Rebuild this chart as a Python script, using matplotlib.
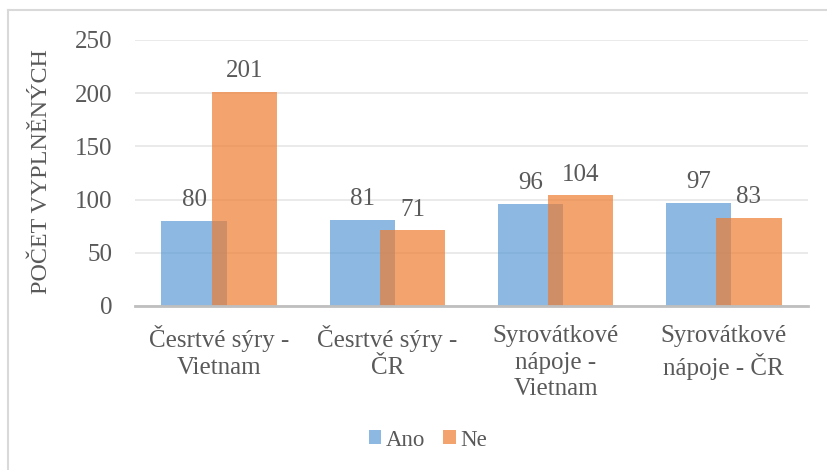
import numpy as np
import matplotlib.pyplot as plt
from matplotlib.lines import Line2D

# Data
kategorie = ['Česrtvé sýry -\nVietnam', 'Česrtvé sýry -\nČR',
             'Syrovátkové\nnápoje -\nVietnam', 'Syrovátkové\nnápoje - ČR']
ano = [80, 81, 96, 97]
ne = [201, 71, 104, 83]

plt.rcParams['font.family'] = 'serif'
plt.rcParams['font.serif'] = ['Liberation Serif', 'DejaVu Serif']
text_col = '#595959'

fig = plt.figure(figsize=(8.28, 4.70), dpi=100)
ax = fig.add_axes([135/828, 1 - 306/470, (808 - 135)/828, (306 - 40)/470])

x = np.arange(len(kategorie))
w = 0.387
off = 0.149
b1 = ax.bar(x - off, ano, w, color='#5B9BD5', alpha=0.7, label='Ano', zorder=2)
b2 = ax.bar(x + off, ne, w, color='#ED7D31', alpha=0.7, label='Ne', zorder=3)

for bars in (b1, b2):
    for r in bars:
        ax.annotate(str(int(r.get_height())),
                    (r.get_x() + r.get_width()/2, r.get_height()),
                    xytext=(0, 7), textcoords='offset points',
                    ha='center', va='bottom', fontsize=18, color=text_col)

ax.set_xlim(-0.5, 3.5)
ax.set_ylim(0, 250)
ax.set_yticks(range(0, 251, 50))
ax.set_xticks(x)
ax.set_xticklabels(kategorie, linespacing=1.25)
ax.tick_params(axis='y', length=0, pad=16, labelsize=18, labelcolor=text_col)
ax.tick_params(axis='x', length=0, pad=14, labelsize=18, labelcolor=text_col)
ax.grid(axis='y', color='#E6E6E6', lw=1.2, zorder=0)
for s in ('top', 'right', 'left'):
    ax.spines[s].set_visible(False)
ax.spines['bottom'].set_color('#BFBFBF')
ax.spines['bottom'].set_linewidth(2)
ax.spines['bottom'].set_zorder(4)

fig.text(42/828, 1 - 172/470, 'POČET VYPLNĚNÝCH', rotation=90,
         ha='center', va='center', fontsize=17.3, color=text_col)

leg = fig.legend(loc='center', bbox_to_anchor=(428/828, 1 - 440/470), ncol=2,
                 frameon=False, fontsize=16.5, handlelength=0.55, handleheight=0.55,
                 handletextpad=0.2, columnspacing=0.8)
for t in leg.get_texts():
    t.set_color(text_col)

# outer frame
fig.add_artist(Line2D([8/828, 8/828], [0, 1 - 10/470], color='#D9D9D9', lw=1.5))
fig.add_artist(Line2D([8/828, 1], [1 - 10/470, 1 - 10/470], color='#D9D9D9', lw=1.5))

fig.savefig('out.png', dpi=100)
